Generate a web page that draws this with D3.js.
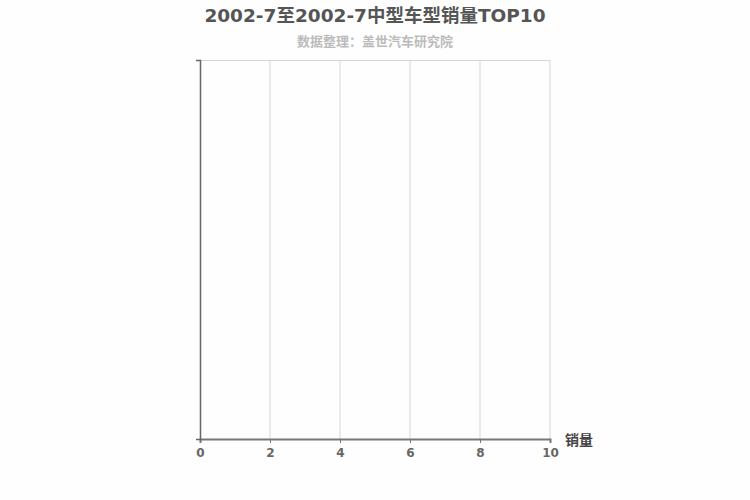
<!DOCTYPE html>
<html><head><meta charset="utf-8">
<script src="https://cdn.jsdelivr.net/npm/d3@7"></script>
<style>
html,body{margin:0;padding:0;background:#fefefe;}
svg{display:block;font-family:"DejaVu Sans","Noto Sans CJK SC",sans-serif;}
</style></head>
<body>
<svg id="chart" width="750" height="500"></svg>
<script>
const titleText = "2002-7至2002-7中型车型销量TOP10";
const subtitleText = "数据整理：盖世汽车研究院";
const axisName = "销量";
const categories = [];
const values = [];
const xTicks = [0, 2, 4, 6, 8, 10];

const svg = d3.select("#chart");
const W = 750, H = 500;
const m = {left: 200, right: 200, top: 60, bottom: 61};
const iw = W - m.left - m.right, ih = H - m.top - m.bottom;

svg.append("rect").attr("width", W).attr("height", H).attr("fill", "#fefefe");

svg.append("text").attr("x", W/2).attr("y", 22).attr("text-anchor", "middle")
  .attr("font-size", 18.5).attr("font-weight", "bold").attr("fill", "#555")
  .text(titleText);
svg.append("text").attr("x", W/2).attr("y", 46).attr("text-anchor", "middle")
  .attr("font-size", 13).attr("font-weight", "bold").attr("fill", "#bbb")
  .text(subtitleText);

const g = svg.append("g").attr("transform", `translate(${m.left},${m.top})`);

const xMax = d3.max(values) || 10;
const x = d3.scaleLinear().domain([0, Math.max(10, xMax)]).range([0, iw]);
const y = d3.scaleBand().domain(categories).range([0, ih]).padding(0.3);

// grid
g.selectAll(".grid").data(xTicks.slice(1)).join("line")
  .attr("x1", d => x(d)).attr("x2", d => x(d)).attr("y1", 0).attr("y2", ih)
  .attr("stroke", "#d6d6d6").attr("stroke-width", 1);
g.append("line").attr("x1", 0).attr("x2", iw).attr("y1", 0.5).attr("y2", 0.5)
  .attr("stroke", "#d6d6d6");

// bars (none in this period)
g.selectAll(".bar").data(categories).join("rect")
  .attr("x", 0).attr("y", c => y(c)).attr("height", y.bandwidth())
  .attr("width", (c, i) => x(values[i])).attr("fill", "#5b9bd5");

// x axis
const xa = g.append("g").attr("transform", `translate(0,${ih})`)
  .call(d3.axisBottom(x).tickValues(xTicks).tickSize(4).tickSizeOuter(4).tickFormat(d3.format("d")));
xa.select(".domain").attr("stroke", "#777").attr("stroke-width", 2);
xa.selectAll(".tick line").attr("stroke", "#777");
xa.selectAll("text").attr("font-size", 12).attr("font-weight", "bold").attr("fill", "#666")
  .attr("font-family", "DejaVu Sans").attr("dy", "0.95em");

// y axis
const ya = g.append("g").call(d3.axisLeft(y).tickSize(4).tickSizeOuter(4));
ya.select(".domain").attr("stroke", "#666").attr("stroke-width", 1.5);

svg.append("text").attr("x", m.left + iw + 15).attr("y", m.top + ih + 6)
  .attr("font-size", 14).attr("font-weight", "bold").attr("fill", "#444")
  .text(axisName);
</script>
</body></html>
